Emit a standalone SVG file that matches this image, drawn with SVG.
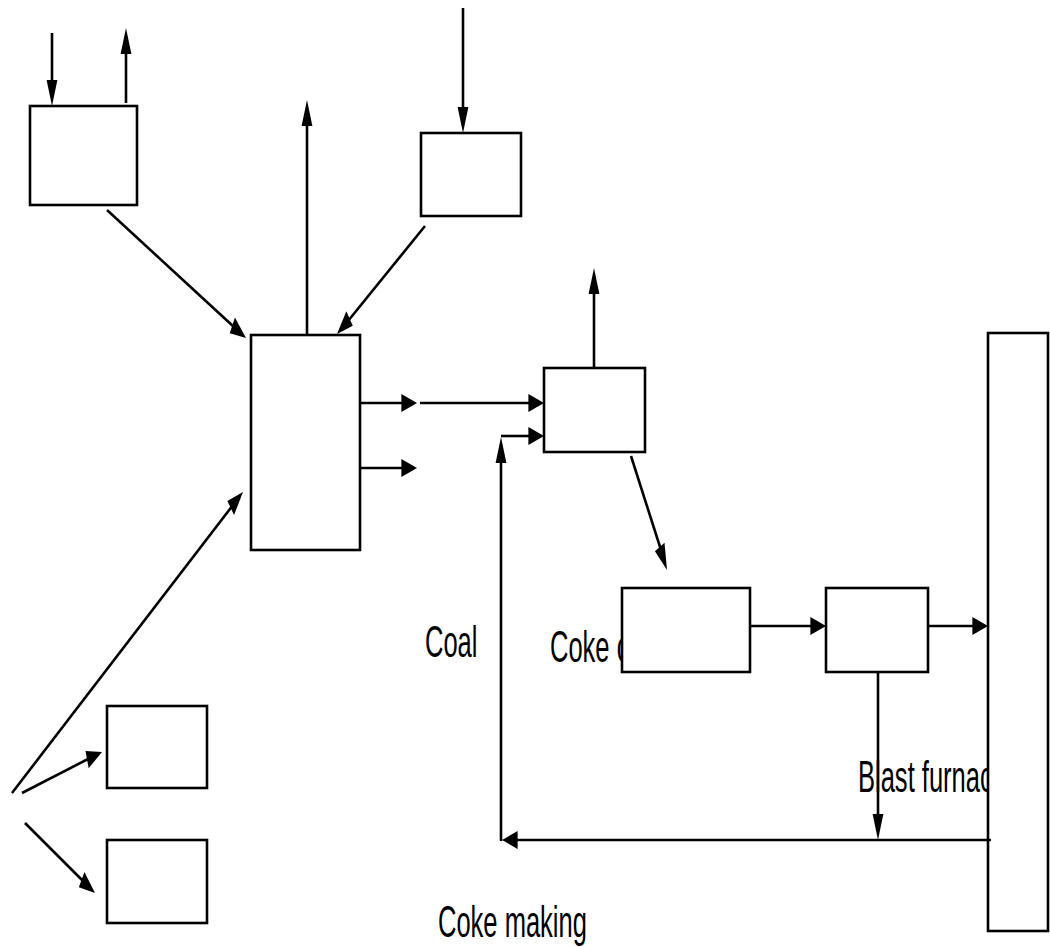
<svg xmlns="http://www.w3.org/2000/svg" width="1050" height="947" viewBox="0 0 1050 947">
<style>
.box{fill:#fff;stroke:#000;stroke-width:2.6}
.ln{fill:none;stroke:#000;stroke-width:2.6}
.hd{fill:#000;stroke:none}
.lbl{font-family:"Liberation Sans",Arial,sans-serif;font-size:44px;fill:#000}
</style>
<rect width="1050" height="947" fill="#fff"/>
<g id="labels">
<text class="lbl" transform="translate(425,657) scale(0.58,1)">Coal</text>
<text class="lbl" transform="translate(550,662) scale(0.58,1)">Coke oven gas</text>
<text class="lbl" transform="translate(858,792) scale(0.58,1)">Blast furnace</text>
<text class="lbl" transform="translate(438,937) scale(0.58,1)">Coke making</text>
</g>
<g id="n1"><rect class="box" x="30" y="106" width="107" height="99"/></g>
<g id="n2"><rect class="box" x="251" y="335" width="109" height="215"/></g>
<g id="n3"><rect class="box" x="421" y="133" width="100" height="83"/></g>
<g id="n4"><rect class="box" x="544" y="368" width="101" height="84"/></g>
<g id="n5"><rect class="box" x="622" y="588" width="128" height="84"/></g>
<g id="n6"><rect class="box" x="826" y="588" width="102" height="84"/></g>
<g id="n7"><rect class="box" x="107" y="706" width="100" height="82"/></g>
<g id="n8"><rect class="box" x="107" y="840" width="100" height="83"/></g>
<g id="n9"><rect class="box" x="988" y="333" width="60" height="598"/></g>
<g id="connectors">
<line class="ln" x1="52" y1="33" x2="52" y2="84"/>
<polygon class="hd" points="52,106 46.6,80 57.4,80"/>
<line class="ln" x1="126" y1="103" x2="126" y2="50"/>
<polygon class="hd" points="126,28 120.6,54 131.4,54"/>
<line class="ln" x1="307" y1="335" x2="307" y2="122"/>
<polygon class="hd" points="307,100 301.6,126 312.4,126"/>
<line class="ln" x1="463" y1="8" x2="463" y2="111"/>
<polygon class="hd" points="463,133 457.6,107 468.4,107"/>
<line class="ln" x1="107" y1="210" x2="234" y2="327"/>
<polygon class="hd" points="246,338 229.74,333.3 234.96,317.55"/>
<line class="ln" x1="425" y1="226" x2="348" y2="321"/>
<polygon class="hd" points="337,334 346.36,311.33 352.76,325.83"/>
<line class="ln" x1="360" y1="403" x2="404" y2="403"/>
<polygon class="hd" points="417,403 401.4,394 401.4,412"/>
<line class="ln" x1="360" y1="468" x2="404" y2="468"/>
<polygon class="hd" points="417,468 401.4,459 401.4,477"/>
<line class="ln" x1="420" y1="403" x2="531" y2="403"/>
<polygon class="hd" points="544,403 528.4,394 528.4,412"/>
<line class="ln" x1="501" y1="841" x2="501" y2="460"/>
<polygon class="hd" points="501,437 495.6,463 506.4,463"/>
<line class="ln" x1="501" y1="436" x2="531" y2="436"/>
<polygon class="hd" points="544,436 528.4,427 528.4,445"/>
<line class="ln" x1="594" y1="368" x2="594" y2="290"/>
<polygon class="hd" points="594,268 588.6,294 599.4,294"/>
<line class="ln" x1="631" y1="456" x2="661" y2="550"/>
<polygon class="hd" points="667,570 654.95,551.18 664.51,542.8"/>
<line class="ln" x1="750" y1="626" x2="813" y2="626"/>
<polygon class="hd" points="826,626 810.4,617 810.4,635"/>
<line class="ln" x1="928" y1="626" x2="975" y2="626"/>
<polygon class="hd" points="988,626 972.4,617 972.4,635"/>
<line class="ln" x1="878" y1="672" x2="878" y2="818"/>
<polygon class="hd" points="878,840 872.6,814 883.4,814"/>
<line class="ln" x1="991" y1="840" x2="514" y2="840"/>
<polygon class="hd" points="502,840 517.6,831 517.6,849"/>
<line class="ln" x1="12" y1="793" x2="233" y2="505"/>
<polygon class="hd" points="243,492 234.04,515.1 227.38,500.92"/>
<line class="ln" x1="22" y1="793" x2="90" y2="758"/>
<polygon class="hd" points="102,752 88.68,768.24 85.5,751.04"/>
<line class="ln" x1="25" y1="823" x2="84" y2="882"/>
<polygon class="hd" points="95,893 78.84,887.35 84.4,871.91"/>
</g>
</svg>
